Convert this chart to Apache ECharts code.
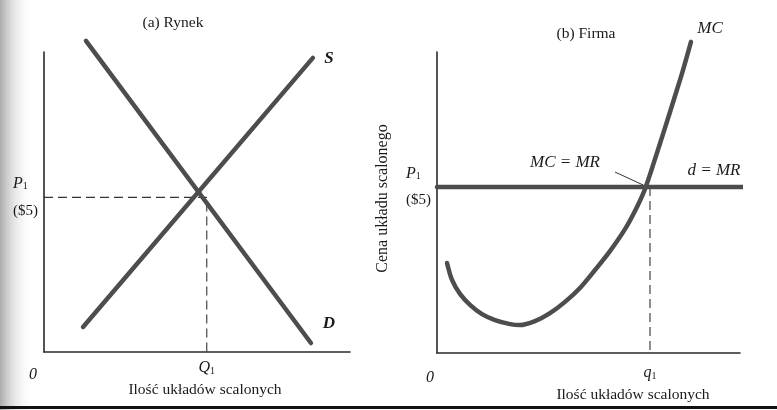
<!DOCTYPE html>
<html><head><meta charset="utf-8">
<script src="https://cdn.jsdelivr.net/npm/echarts@6/dist/echarts.min.js"></script>
<style>html,body{margin:0;padding:0;background:#fff}#c{width:777px;height:410px}</style>
</head><body><div id="c"></div>
<script>
// ---- data (arbitrary units; P1 = 5, Q1 = 5, q1 = 5) ----
const demandD = [[1.29, 10.06], [8.20, 0.29]];
const supplyS = [[1.20, 0.81], [8.26, 9.51]];
const marketGuide = [[0, 5], [5, 5], [5, 0]];
const mcX = [0.235, 0.352, 0.540, 0.775, 1.056, 1.362, 1.714, 1.948, 2.300, 2.653, 3.005, 3.357, 3.709,
  4.061, 4.413, 4.695, 4.883, 5.117, 5.352, 5.587, 5.775, 5.962];
const mcY = [2.71, 2.20, 1.78, 1.45, 1.17, 0.99, 0.87, 0.84, 0.96, 1.20, 1.54, 1.96, 2.50,
  3.07, 3.73, 4.40, 4.94, 5.84, 6.78, 7.74, 8.52, 9.37];
const demandFirm = [[0, 5], [7.18, 5]];
const firmGuide = [[5, 5], [5, 0]];
const mcMrLeader = [[4.18, 5.45], [4.84, 5.06]];
const priceTick = 5;      // P1 ($5)
const quantityTick = 5;   // Q1 / q1
const priceLabel = '($5)';

const mcCurve = mcX.map((x, i) => [x, mcY[i]]);

const SERIF = '"Liberation Serif", "DejaVu Serif", serif';
const INK = '#1a1a1a';
const CURVE = '#4d4d4d';

const chart = echarts.init(document.getElementById('c'), null, {renderer: 'canvas'});

function qLabel(sym) {
  return function (v) { return v === quantityTick ? '{i|' + sym + '}{s|1}' : ''; };
}
const qRich = {
  i: {fontFamily: SERIF, fontStyle: 'italic', fontSize: 16, color: INK, lineHeight: 16},
  s: {fontFamily: SERIF, fontSize: 10, color: INK, lineHeight: 10, verticalAlign: 'bottom', padding: [6, 0, 0, 0]}
};
const pRich = {
  p: {fontFamily: SERIF, fontStyle: 'italic', fontSize: 16, color: INK, lineHeight: 27},
  s: {fontFamily: SERIF, fontSize: 10, color: INK, lineHeight: 27, padding: [6, 0, 0, 0]},
  v: {fontFamily: SERIF, fontSize: 15, color: INK, lineHeight: 27}
};
function pLabel(v) { return v === priceTick ? '{p|P}{s|1}\n{v|' + priceLabel + '}' : ''; }

const axisLine = {show: true, lineStyle: {color: '#2a2a2a', width: 1.6}};

function thick(name, data, xi, smooth) {
  return {type: 'line', name, data, xAxisIndex: xi, yAxisIndex: xi, symbol: 'none', smooth: smooth || false,
    clip: false, silent: true,
    lineStyle: {color: CURVE, width: 4.5, cap: 'round', join: 'round'}};
}
function dashed(data, xi) {
  return {type: 'line', data, xAxisIndex: xi, yAxisIndex: xi, symbol: 'none', clip: false, silent: true,
    lineStyle: {color: '#333', width: 1.1, type: [9, 5]}, z: 1};
}

chart.setOption({
  animation: false,
  backgroundColor: '#fff',
  grid: [
    {left: 44, top: 52, width: 306, height: 300},
    {left: 437, top: 52, width: 303, height: 301}
  ],
  xAxis: [
    {gridIndex: 0, type: 'value', min: 0, max: 9.4, interval: 5, splitLine: {show: false}, axisTick: {show: false},
      axisLine, axisLabel: {formatter: qLabel('Q'), rich: qRich, margin: 8, showMaxLabel: false}},
    {gridIndex: 1, type: 'value', min: 0, max: 7.113, interval: 5, splitLine: {show: false}, axisTick: {show: false},
      axisLine, axisLabel: {formatter: qLabel('q'), rich: qRich, margin: 12, showMaxLabel: false}}
  ],
  yAxis: [
    {gridIndex: 0, type: 'value', min: 0, max: 9.7, interval: 5, splitLine: {show: false}, axisTick: {show: false},
      axisLine, axisLabel: {formatter: pLabel, rich: pRich, margin: 31, align: 'left', showMaxLabel: false}},
    {gridIndex: 1, type: 'value', min: 0, max: 9.066, interval: 5, splitLine: {show: false}, axisTick: {show: false},
      axisLine, axisLabel: {formatter: pLabel, rich: pRich, margin: 31, align: 'left', showMaxLabel: false},
      name: 'Cena układu scalonego', nameLocation: 'middle', nameRotate: 90, nameGap: 46,
      nameTextStyle: {fontFamily: SERIF, fontSize: 16, color: INK, padding: [0, 0, 0, 8]}}
  ],
  series: [
    dashed(marketGuide, 0),
    thick('D', demandD, 0),
    thick('S', supplyS, 0),
    dashed(firmGuide, 1),
    thick('d = MR', demandFirm, 1),
    thick('MC', mcCurve, 1, 0.3),
    {type: 'line', data: mcMrLeader, xAxisIndex: 1, yAxisIndex: 1, symbol: 'none', clip: false, silent: true,
      lineStyle: {color: '#333', width: 1}}
  ],
  graphic: [
    {type: 'rect', shape: {x: 0, y: 0, width: 34, height: 410}, silent: true, z: -10,
      style: {fill: new echarts.graphic.LinearGradient(0, 0, 1, 0, [
        {offset: 0, color: 'rgba(150,150,150,0.8)'},
        {offset: 0.45, color: 'rgba(205,205,205,0.45)'},
        {offset: 1, color: 'rgba(255,255,255,0)'}])}},
    {type: 'rect', shape: {x: 0, y: 406, width: 777, height: 3}, style: {fill: '#111'}, silent: true},
    {type: 'text', x: 173, y: 23, style: {text: '(a) Rynek', font: '15.5px ' + SERIF, fill: INK, align: 'center', verticalAlign: 'middle'}},
    {type: 'text', x: 586, y: 34, style: {text: '(b) Firma', font: '15.5px ' + SERIF, fill: INK, align: 'center', verticalAlign: 'middle'}},
    {type: 'text', x: 205, y: 390, style: {text: 'Ilość układów scalonych', font: '15.5px ' + SERIF, fill: INK, align: 'center', verticalAlign: 'middle'}},
    {type: 'text', x: 633, y: 395, style: {text: 'Ilość układów scalonych', font: '15.5px ' + SERIF, fill: INK, align: 'center', verticalAlign: 'middle'}},
    {type: 'text', x: 33, y: 375, style: {text: '0', font: 'italic 16px ' + SERIF, fill: INK, align: 'center', verticalAlign: 'middle'}},
    {type: 'text', x: 430, y: 378, style: {text: '0', font: 'italic 16px ' + SERIF, fill: INK, align: 'center', verticalAlign: 'middle'}},
    {type: 'text', x: 329, y: 59, style: {text: 'S', font: 'italic bold 17px ' + SERIF, fill: INK, align: 'center', verticalAlign: 'middle'}},
    {type: 'text', x: 329, y: 324, style: {text: 'D', font: 'italic bold 17px ' + SERIF, fill: INK, align: 'center', verticalAlign: 'middle'}},
    {type: 'text', x: 710, y: 29, style: {text: 'MC', font: 'italic 17px ' + SERIF, fill: INK, align: 'center', verticalAlign: 'middle'}},
    {type: 'text', x: 565, y: 163, style: {text: 'MC = MR', font: 'italic 17px ' + SERIF, fill: INK, align: 'center', verticalAlign: 'middle'}},
    {type: 'text', x: 714, y: 171, style: {text: 'd = MR', font: 'italic 17px ' + SERIF, fill: INK, align: 'center', verticalAlign: 'middle'}}
  ]
});
</script>
</body></html>
